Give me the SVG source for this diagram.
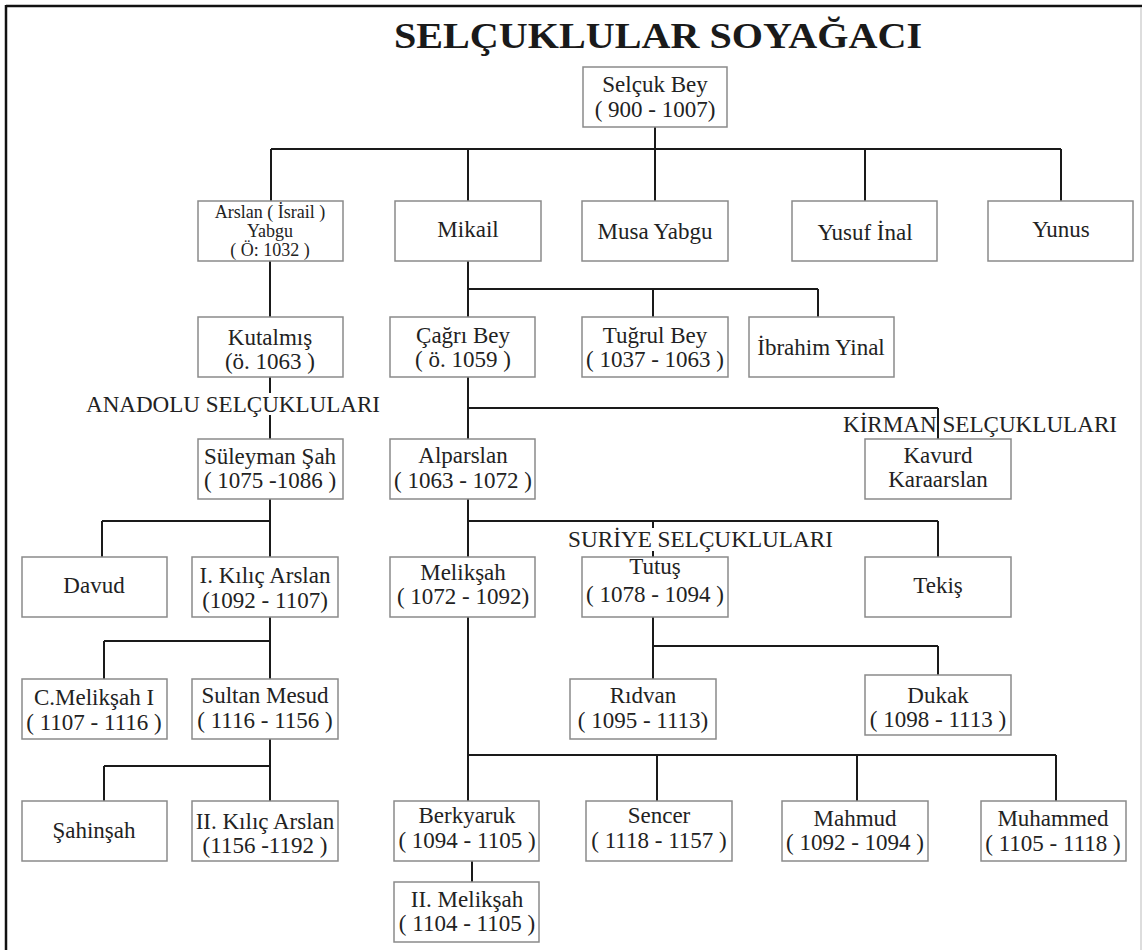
<svg xmlns="http://www.w3.org/2000/svg" width="1142" height="950" viewBox="0 0 1142 950">
<style>
.bx{fill:#fff;stroke:#8a8a8a;stroke-width:1.5}
.t{font-family:"Liberation Serif","Times New Roman",serif;font-size:23px;fill:#222;text-anchor:middle}
.s{font-size:18px}
.lbl{font-family:"Liberation Serif","Times New Roman",serif;font-size:23px;fill:#222}
.ln{stroke:#1a1a1a;stroke-width:2;fill:none}
</style>
<rect x="0" y="0" width="1142" height="950" fill="#fff"/>
<g id="frame">
<line x1="6" y1="6" x2="1142" y2="6" stroke="#111" stroke-width="2.5"/>
<line x1="6" y1="5" x2="6" y2="950" stroke="#111" stroke-width="2.5"/>
<line x1="1141" y1="7" x2="1141" y2="950" stroke="#bbb" stroke-width="1"/>
</g>
<text id="title" x="394" y="48" textLength="528" lengthAdjust="spacingAndGlyphs" style="font-family:'Liberation Serif','Times New Roman',serif;font-size:35px;font-weight:bold;fill:#1a1a1a">SELÇUKLULAR SOYAĞACI</text>
<g id="connectors" class="ln">
<path d="M655 127V149M271 149H1061M271 149V201M468 149V201M655 149V201M865 149V201M1061 149V201"/>
<path d="M270 261V317M270 377V393M270 415V439"/>
<path d="M468 261V317M468 289H818M653 289V317M818 289V317"/>
<path d="M468 377V439M468 408H938M938 408V439"/>
<path d="M270 499V557M102 521H270M102 521V557"/>
<path d="M468 499V557M468 521H938M653 521V528M653 551V557M938 521V557"/>
<path d="M270 617V679M104 641H270M104 641V679"/>
<path d="M270 739V801M104 766H270M104 766V801"/>
<path d="M468 617V801M468 755H1056M657 755V801M857 755V801M1056 755V801"/>
<path d="M653 617V679M653 646H938M938 646V675"/>
<path d="M472 861V882"/>
</g>
<g id="labels">
<text class="lbl" x="86" y="412" textLength="294" lengthAdjust="spacingAndGlyphs">ANADOLU SELÇUKLULARI</text>
<text class="lbl" x="843" y="432" textLength="274" lengthAdjust="spacingAndGlyphs">KİRMAN SELÇUKLULARI</text>
<text class="lbl" x="568" y="547" textLength="265" lengthAdjust="spacingAndGlyphs">SURİYE SELÇUKLULARI</text>
</g>
<g id="selcuk"><rect class="bx" x="583" y="67" width="144" height="60"/><text class="t" x="655" y="92">Selçuk Bey</text><text class="t" x="655" y="117">( 900 - 1007)</text></g>
<g id="arslan"><rect class="bx" x="198" y="201" width="145" height="60"/><text class="t s" x="270" y="218">Arslan ( İsrail )</text><text class="t s" x="270" y="237">Yabgu</text><text class="t s" x="270" y="256">( Ö: 1032 )</text></g>
<g id="mikail"><rect class="bx" x="395" y="201" width="146" height="60"/><text class="t" x="468" y="237">Mikail</text></g>
<g id="musa"><rect class="bx" x="582" y="201" width="146" height="60"/><text class="t" x="655" y="239">Musa Yabgu</text></g>
<g id="yusuf"><rect class="bx" x="792" y="201" width="145" height="60"/><text class="t" x="865" y="240">Yusuf İnal</text></g>
<g id="yunus"><rect class="bx" x="988" y="201" width="145" height="60"/><text class="t" x="1061" y="237">Yunus</text></g>
<g id="kutalmis"><rect class="bx" x="198" y="317" width="145" height="60"/><text class="t" x="270" y="345">Kutalmış</text><text class="t" x="270" y="369">(ö. 1063 )</text></g>
<g id="cagri"><rect class="bx" x="390" y="317" width="145" height="60"/><text class="t" x="463" y="343">Çağrı Bey</text><text class="t" x="463" y="367">( ö. 1059 )</text></g>
<g id="tugrul"><rect class="bx" x="582" y="317" width="146" height="60"/><text class="t" x="655" y="343">Tuğrul Bey</text><text class="t" x="655" y="367">( 1037 - 1063 )</text></g>
<g id="ibrahim"><rect class="bx" x="749" y="317" width="145" height="60"/><text class="t" x="821" y="355">İbrahim Yinal</text></g>
<g id="suleyman"><rect class="bx" x="198" y="439" width="145" height="60"/><text class="t" x="270" y="464">Süleyman Şah</text><text class="t" x="270" y="488">( 1075 -1086 )</text></g>
<g id="alparslan"><rect class="bx" x="390" y="439" width="145" height="60"/><text class="t" x="463" y="463">Alparslan</text><text class="t" x="463" y="488">( 1063 - 1072 )</text></g>
<g id="kavurd"><rect class="bx" x="865" y="439" width="146" height="60"/><text class="t" x="938" y="463">Kavurd</text><text class="t" x="938" y="487">Karaarslan</text></g>
<g id="davud"><rect class="bx" x="22" y="557" width="145" height="60"/><text class="t" x="94" y="593">Davud</text></g>
<g id="kilic1"><rect class="bx" x="192" y="557" width="146" height="60"/><text class="t" x="265" y="583">I. Kılıç Arslan</text><text class="t" x="265" y="608">(1092 - 1107)</text></g>
<g id="meliksah"><rect class="bx" x="390" y="557" width="145" height="60"/><text class="t" x="463" y="580">Melikşah</text><text class="t" x="463" y="604">( 1072 - 1092)</text></g>
<g id="tutus"><rect class="bx" x="582" y="557" width="146" height="60"/><text class="t" x="655" y="574">Tutuş</text><text class="t" x="655" y="602">( 1078 - 1094 )</text></g>
<g id="tekis"><rect class="bx" x="865" y="557" width="146" height="60"/><text class="t" x="938" y="593">Tekiş</text></g>
<g id="cmeliksah"><rect class="bx" x="22" y="679" width="145" height="60"/><text class="t" x="94" y="705">C.Melikşah I</text><text class="t" x="94" y="730">( 1107 - 1116 )</text></g>
<g id="mesud"><rect class="bx" x="192" y="679" width="146" height="60"/><text class="t" x="265" y="703">Sultan Mesud</text><text class="t" x="265" y="728">( 1116 - 1156 )</text></g>
<g id="ridvan"><rect class="bx" x="570" y="679" width="146" height="60"/><text class="t" x="643" y="703">Rıdvan</text><text class="t" x="643" y="728">( 1095 - 1113)</text></g>
<g id="dukak"><rect class="bx" x="865" y="675" width="146" height="60"/><text class="t" x="938" y="703">Dukak</text><text class="t" x="938" y="727">( 1098 - 1113 )</text></g>
<g id="sahinsah"><rect class="bx" x="22" y="801" width="145" height="60"/><text class="t" x="94" y="838">Şahinşah</text></g>
<g id="kilic2"><rect class="bx" x="192" y="801" width="146" height="60"/><text class="t" x="265" y="829">II. Kılıç Arslan</text><text class="t" x="265" y="853">(1156 -1192 )</text></g>
<g id="berkyaruk"><rect class="bx" x="394" y="801" width="145" height="60"/><text class="t" x="467" y="823">Berkyaruk</text><text class="t" x="467" y="848">( 1094 - 1105 )</text></g>
<g id="sencer"><rect class="bx" x="586" y="801" width="146" height="60"/><text class="t" x="659" y="823">Sencer</text><text class="t" x="659" y="848">( 1118 - 1157 )</text></g>
<g id="mahmud"><rect class="bx" x="782" y="801" width="146" height="60"/><text class="t" x="855" y="826">Mahmud</text><text class="t" x="855" y="850">( 1092 - 1094 )</text></g>
<g id="muhammed"><rect class="bx" x="981" y="801" width="145" height="60"/><text class="t" x="1053" y="826">Muhammed</text><text class="t" x="1053" y="851">( 1105 - 1118 )</text></g>
<g id="meliksah2"><rect class="bx" x="394" y="882" width="145" height="60"/><text class="t" x="467" y="907">II. Melikşah</text><text class="t" x="467" y="931">( 1104 - 1105 )</text></g>
</svg>
